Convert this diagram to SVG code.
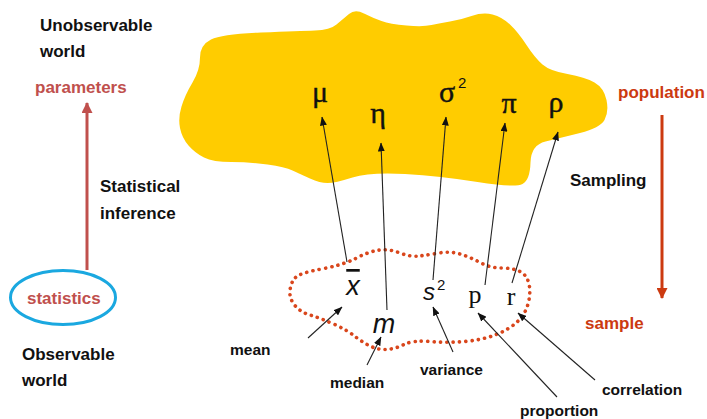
<svg xmlns="http://www.w3.org/2000/svg" width="707" height="419" viewBox="0 0 707 419">
  <style>
    .lbl { font-family: "Liberation Sans", Arial, sans-serif; font-weight: bold; font-size: 17px; fill: #111; }
    .small { font-family: "Liberation Sans", Arial, sans-serif; font-weight: bold; font-size: 15.5px; fill: #111; }
    .rose { font-family: "Liberation Sans", Arial, sans-serif; font-weight: bold; font-size: 17px; fill: #C0504D; }
    .rust { font-family: "Liberation Sans", Arial, sans-serif; font-weight: bold; font-size: 17px; fill: #CC3A10; }
    .greek { font-family: "Liberation Serif", "Times New Roman", serif; font-size: 30px; fill: #111; stroke: #111; stroke-width: 0.4; text-anchor: middle; }
    .stat-i { font-family: "Liberation Sans", Arial, sans-serif; font-style: italic; font-size: 27px; fill: #111; text-anchor: middle; }
    .stat-s { font-family: "Liberation Serif", "Times New Roman", serif; font-size: 26px; fill: #111; text-anchor: middle; }
    .sup { font-family: "Liberation Sans", Arial, sans-serif; font-size: 15px; fill: #111; }
    .thin { stroke: #222; stroke-width: 1.1; fill: none; marker-end: url(#tip); }
  </style>
  <defs>
    <marker id="tip" markerUnits="userSpaceOnUse" markerWidth="9" markerHeight="7" refX="8.5" refY="3.5" orient="auto">
      <path d="M0,0 L9,3.5 L0,7 z" fill="#111"/>
    </marker>
    <marker id="tipRose" markerUnits="userSpaceOnUse" markerWidth="11" markerHeight="11" refX="10" refY="5.5" orient="auto">
      <path d="M0,0 L11,5.5 L0,11 z" fill="#C0504D"/>
    </marker>
    <marker id="tipRust" markerUnits="userSpaceOnUse" markerWidth="11" markerHeight="11" refX="10" refY="5.5" orient="auto">
      <path d="M0,0 L11,5.5 L0,11 z" fill="#CC3A10"/>
    </marker>
  </defs>

  <rect width="707" height="419" fill="#fff"/>

  <!-- population blob -->
  <g id="population">
    <path fill="#FFCC00" d="M 200,57.5 Q 200,45 211,39.5 Q 222,34 261,32.5 Q 300,31 315,30.5 Q 330,30 336.5,24.5 Q 343,19 349,14 Q 355,9 364,13.5 Q 373,18 381.5,21 Q 390,24 406.5,25.5 Q 423,27 431.5,25 Q 440,23 450,21.5 Q 460,20 471.5,16 Q 483,12 492.5,14.5 Q 502,17 510,24.5 Q 518,32 526.5,45 Q 535,58 542.5,64.5 Q 550,71 567.5,74 Q 585,77 594.5,82.5 Q 604,88 606.5,100 Q 609,112 604.5,120 Q 600,128 580,133 Q 560,138 545.5,141.5 Q 531,145 530.5,162.5 Q 530,180 522.5,184 Q 515,188 477.5,182 Q 440,176 405,174 Q 370,172 352.5,177.5 Q 335,183 327.5,183 Q 320,183 310,178.5 Q 300,174 292.5,170.5 Q 285,167 267.5,164.5 Q 250,162 231.5,162 Q 213,162 204,157.5 Q 195,153 188.5,145.5 Q 182,138 180,128 Q 178,118 181.5,106.5 Q 185,95 192.5,82.5 Q 200,70 200,57.5 Z"/>
    <text class="greek" x="320" y="102">μ</text>
    <text class="greek" x="378" y="123">η</text>
    <text class="greek" x="447" y="102">σ</text>
    <text class="sup" x="458" y="88">2</text>
    <text class="greek" x="509" y="113">π</text>
    <text class="greek" x="556" y="112">ρ</text>
  </g>

  <!-- sample outline -->
  <g id="sample">
    <path fill="none" stroke="#D9461C" stroke-width="3.6" stroke-linecap="round" stroke-dasharray="0.1 6.2" d="M 295.5,277.5 Q 300,273 321.5,269 Q 343,265 356.5,258 Q 370,251 380,250 Q 390,249 400,253 Q 410,257 419,256 Q 428,255 439,253 Q 450,251 460,254 Q 470,257 480,262.5 Q 490,268 501.5,268 Q 513,268 520,271.5 Q 527,275 529,284 Q 531,293 528,304 Q 525,315 516.5,322.5 Q 508,330 495,335 Q 482,340 464.5,341.5 Q 447,343 430,341.5 Q 413,340 404,344.5 Q 395,349 386.5,349.5 Q 378,350 370,346 Q 362,342 354.5,336 Q 347,330 333.5,324 Q 320,318 310,315 Q 300,312 294.5,305 Q 289,298 290,290 Q 291,282 295.5,277.5 Z"/>
    <text class="stat-i" x="353" y="295" style="text-decoration: overline">x</text>
    <text class="stat-i" x="384" y="333">m</text>
    <text class="stat-i" x="429" y="300" style="font-size:24px">s</text>
    <text class="sup" x="437" y="290">2</text>
    <text class="stat-s" x="475" y="303">p</text>
    <text class="stat-s" x="511" y="305">r</text>
  </g>

  <!-- side labels -->
  <g id="unobservable">
    <text class="lbl" x="40" y="31">Unobservable</text>
    <text class="lbl" x="40" y="57">world</text>
  </g>
  <g id="parameters"><text class="rose" x="35" y="93">parameters</text></g>
  <g id="inference">
    <text class="lbl" x="100" y="192">Statistical</text>
    <text class="lbl" x="100" y="219">inference</text>
  </g>
  <g id="statistics">
    <ellipse cx="63" cy="297.5" rx="52.5" ry="27" fill="none" stroke="#1AA8E0" stroke-width="3"/>
    <text class="rose" x="27" y="304">statistics</text>
  </g>
  <g id="observable">
    <text class="lbl" x="22" y="360">Observable</text>
    <text class="lbl" x="22" y="386">world</text>
  </g>
  <g id="population-label"><text class="rust" x="618" y="98">population</text></g>
  <g id="sampling"><text class="lbl" x="570" y="186">Sampling</text></g>
  <g id="sample-label"><text class="rust" x="585" y="329">sample</text></g>

  <!-- term labels -->
  <g id="mean"><text class="small" x="230" y="355">mean</text></g>
  <g id="median"><text class="small" x="330" y="388">median</text></g>
  <g id="variance"><text class="small" x="420" y="375">variance</text></g>
  <g id="proportion"><text class="small" x="520" y="416">proportion</text></g>
  <g id="correlation"><text class="small" x="602" y="395">correlation</text></g>

  <!-- connectors -->
  <g id="connectors">
    <line x1="87" y1="270" x2="87" y2="103" stroke="#C0504D" stroke-width="3" marker-end="url(#tipRose)"/>
    <line x1="662" y1="115" x2="662" y2="298" stroke="#CC3A10" stroke-width="3" marker-end="url(#tipRust)"/>
    <line class="thin" x1="347" y1="262" x2="322" y2="117"/>
    <line class="thin" x1="387" y1="310" x2="381" y2="143"/>
    <line class="thin" x1="433" y1="280" x2="446" y2="117"/>
    <line class="thin" x1="485" y1="285" x2="505" y2="123"/>
    <line class="thin" x1="512" y1="283" x2="558" y2="132"/>
    <line class="thin" x1="308" y1="338" x2="342" y2="307"/>
    <line class="thin" x1="367" y1="365" x2="381" y2="337"/>
    <line class="thin" x1="453" y1="352" x2="433" y2="307"/>
    <line class="thin" x1="557" y1="397" x2="478" y2="313"/>
    <line class="thin" x1="595" y1="380" x2="518" y2="313"/>
  </g>
</svg>
